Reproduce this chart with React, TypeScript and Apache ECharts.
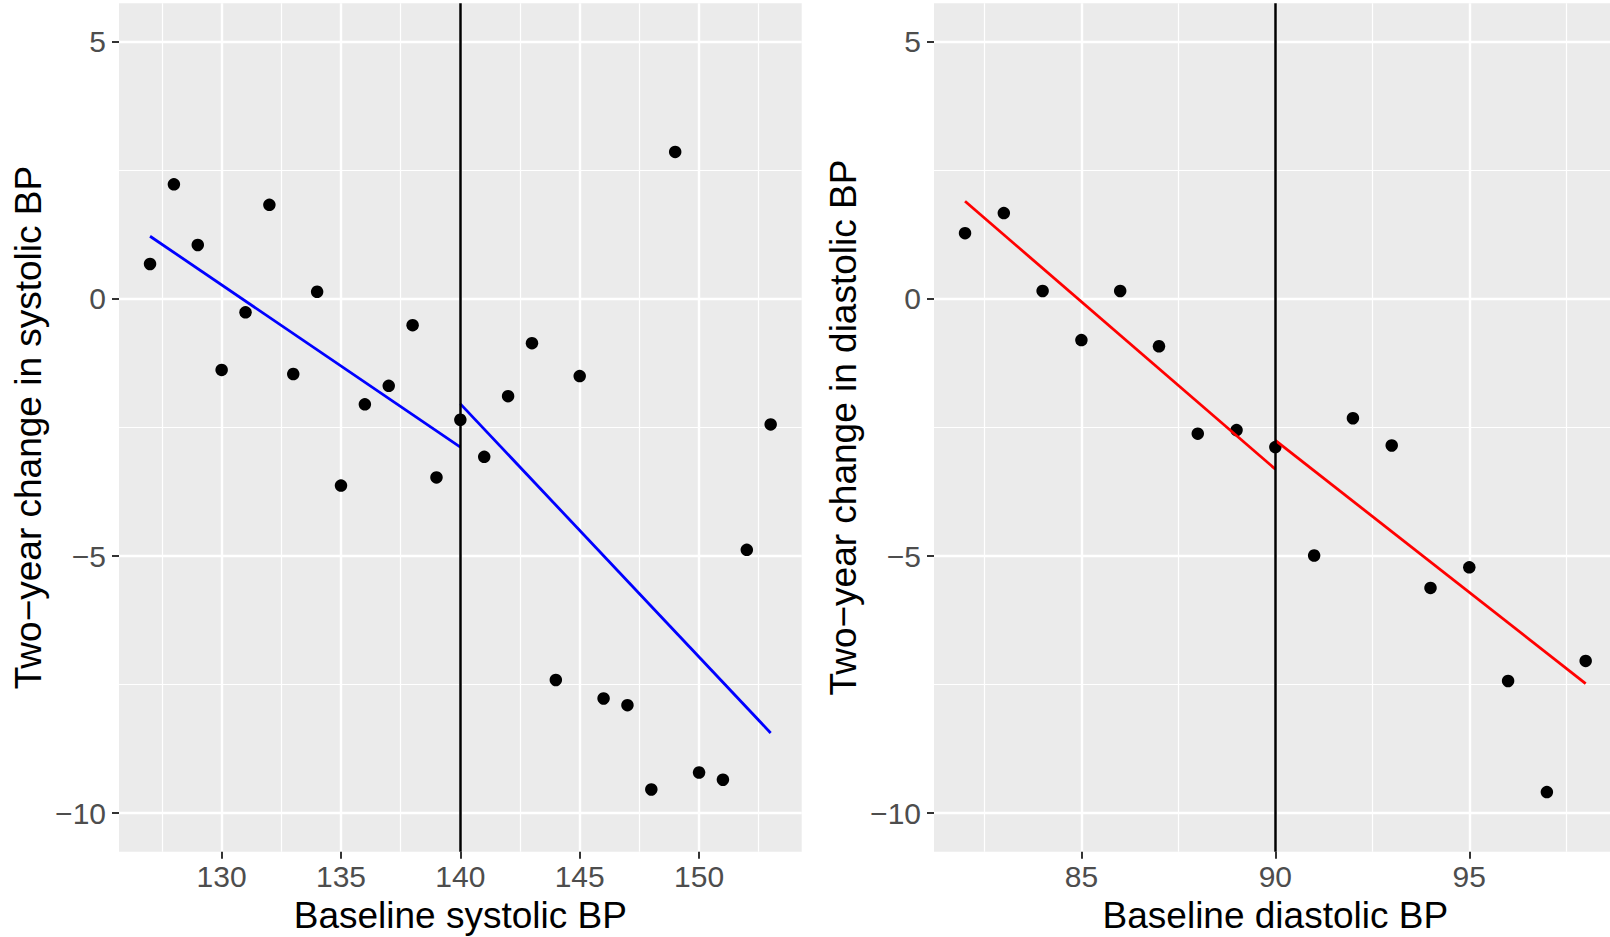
import React, { useEffect, useRef } from "react";
import * as echarts from "echarts";

// ---- Data ----
const sysX = [127, 128, 129, 130, 131, 132, 133, 134, 135, 136, 137, 138, 139, 140, 141, 142, 143, 144, 145, 146, 147, 148, 149, 150, 151, 152, 153];
const sysY = [0.68, 2.23, 1.05, -1.38, -0.26, 1.83, -1.46, 0.14, -3.63, -2.05, -1.69, -0.51, -3.47, -2.35, -3.07, -1.89, -0.86, -7.41, -1.5, -7.77, -7.9, -9.54, 2.86, -9.21, -9.35, -4.88, -2.44];

const diaX = [82, 83, 84, 85, 86, 87, 88, 89, 90, 91, 92, 93, 94, 95, 96, 97, 98];
const diaY = [1.28, 1.67, 0.155, -0.8, 0.155, -0.92, -2.62, -2.55, -2.88, -4.99, -2.32, -2.85, -5.62, -5.22, -7.43, -9.59, -7.04];

// fitted line end points (below / above cut-off)
const sysFitLowX = [127, 140];
const sysFitLowY = [1.22, -2.88];
const sysFitHighX = [140, 153];
const sysFitHighY = [-2.04, -8.44];
const diaFitLowX = [82, 90];
const diaFitLowY = [1.9, -3.31];
const diaFitHighX = [90, 98];
const diaFitHighY = [-2.75, -7.48];

const sysCut = 140;
const diaCut = 90;

// ticks
const sysTicks = [130, 135, 140, 145, 150];
const sysMinor = [127.5, 132.5, 137.5, 142.5, 147.5, 152.5];
const diaTicks = [85, 90, 95];
const diaMinor = [82.5, 87.5, 92.5, 97.5];
const yTicks = [-10, -5, 0, 5];
const yMinor = [-7.5, -2.5, 2.5];

const sysRange = [125.7, 154.3];
const diaRange = [81.2, 98.8];
const yRange = [-10.75, 5.75];

const FONT = "'Liberation Sans', Arial, Helvetica, sans-serif";
const fmt = (v: number) => String(v).replace("-", "\u2212");

function majorAxis(gridIndex: number, range: number[], ticks: number[], name: string, isY: boolean) {
  return {
    type: "value",
    gridIndex,
    min: range[0],
    max: range[1],
    name,
    nameLocation: "middle",
    nameGap: isY ? 72 : 44,
    nameTextStyle: { fontSize: 37, color: "#000", fontFamily: FONT },
    axisLine: { show: false, onZero: false },
    axisTick: { show: true, customValues: ticks, length: 7, lineStyle: { color: "#333333", width: 2 } },
    axisLabel: {
      show: true,
      customValues: ticks,
      fontSize: 30,
      color: "#4D4D4D",
      fontFamily: FONT,
      margin: isY ? 13 : 10,
      formatter: fmt,
    },
    splitLine: { show: true, lineStyle: { color: "#FFFFFF", width: 2.4 } },
    minorSplitLine: { show: false },
  };
}

function minorAxis(gridIndex: number, range: number[], minor: number[]) {
  return {
    type: "value",
    gridIndex,
    min: range[0],
    max: range[1],
    axisLine: { show: false, onZero: false },
    axisTick: { show: false, customValues: minor },
    axisLabel: { show: false, customValues: minor },
    splitLine: { show: true, lineStyle: { color: "#FFFFFF", width: 1.2 } },
  };
}

const pairs = (xs: number[], ys: number[]) => xs.map((x, i) => [x, ys[i]]);

export default function App() {
  const ref = useRef<HTMLDivElement>(null);
  useEffect(() => {
    document.body.style.margin = "0";
    if (!ref.current) return;
    const chart = echarts.init(ref.current, null, { renderer: "svg" });
    const gridBase = {
      top: 3.3,
      width: 682.7,
      height: 848.4,
      show: true,
      backgroundColor: "#EBEBEB",
      borderWidth: 0,
      containLabel: false,
      outerBoundsMode: "none",
    };
    const grids = [
      { ...gridBase, left: 119 },
      { ...gridBase, left: 934 },
    ];
    const vline = (cut: number) => ({
      silent: true,
      symbol: "none",
      label: { show: false },
      lineStyle: { color: "#000", width: 2.5, type: "solid", opacity: 1 },
      data: [{ xAxis: cut }],
    });
    const pointStyle = { color: "#000", opacity: 1 };
    const fit = (xs: number[], ys: number[], color: string, axis: number) => ({
      type: "line",
      xAxisIndex: axis,
      yAxisIndex: axis,
      data: pairs(xs, ys),
      showSymbol: false,
      lineStyle: { color, width: 2.8 },
      z: 4,
    });
    const option = {
      animation: false,
      grid: grids,
      xAxis: [
        majorAxis(0, sysRange, sysTicks, "Baseline systolic BP", false),
        minorAxis(0, sysRange, sysMinor),
        majorAxis(1, diaRange, diaTicks, "Baseline diastolic BP", false),
        minorAxis(1, diaRange, diaMinor),
      ],
      yAxis: [
        majorAxis(0, yRange, yTicks, "Two\u2212year change in systolic BP", true),
        minorAxis(0, yRange, yMinor),
        majorAxis(1, yRange, yTicks, "Two\u2212year change in diastolic BP", true),
        minorAxis(1, yRange, yMinor),
      ],
      series: [
        {
          type: "scatter",
          xAxisIndex: 0,
          yAxisIndex: 0,
          data: pairs(sysX, sysY),
          symbolSize: 12.5,
          itemStyle: pointStyle,
          markLine: vline(sysCut),
          z: 3,
        },
        fit(sysFitLowX, sysFitLowY, "#0000FF", 0),
        fit(sysFitHighX, sysFitHighY, "#0000FF", 0),
        {
          type: "scatter",
          xAxisIndex: 2,
          yAxisIndex: 2,
          data: pairs(diaX, diaY),
          symbolSize: 12.5,
          itemStyle: pointStyle,
          markLine: vline(diaCut),
          z: 3,
        },
        fit(diaFitLowX, diaFitLowY, "#FF0000", 2),
        fit(diaFitHighX, diaFitHighY, "#FF0000", 2),
      ],
    };
    chart.setOption(option as any);
    return () => chart.dispose();
  }, []);
  return <div ref={ref} style={{ width: 1610, height: 937, overflow: "hidden" }} />;
}
